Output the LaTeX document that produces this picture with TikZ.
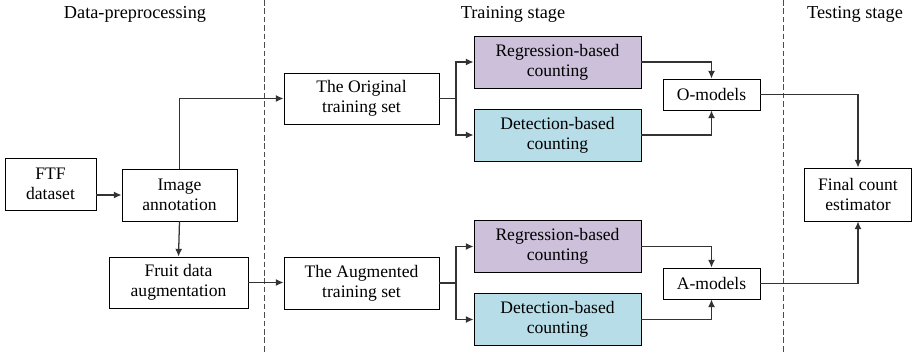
\documentclass[tikz,border=0pt]{standalone}
\usepackage{fontspec}
\setmainfont{Liberation Serif}
\usepackage{xcolor}
\definecolor{regfill}{HTML}{CCC0DA}
\definecolor{detfill}{HTML}{B7DDE8}
\definecolor{wire}{HTML}{333333}
\usepackage{tikz}
\usetikzlibrary{arrows.meta,positioning,calc}

\begin{document}
\begin{tikzpicture}[x=0.025cm, y=-0.025cm,
    box/.style={draw=black, line width=0.6pt, align=center, inner sep=1pt,
      font=\fontsize{12.5}{14.5}\selectfont, minimum height=1.3cm},
    link/.style={-{Latex[length=5.5pt,width=5pt]}, wire, line width=0.9pt},
    title/.style={font=\fontsize{13}{15}\selectfont}]
    \useasboundingbox (0,0) rectangle (912,353);
    % stage titles and separators
    \node[title] (tpre) at (135,14) {Data-preprocessing};
    \node[title] (ttrain) at (513,14) {Training stage};
    \node[title] (ttest) at (855,14) {Testing stage};
    \draw[dash pattern=on 4pt off 2pt, line width=0.5pt, black!70] (264,0) -- (264,353);
    \draw[dash pattern=on 4pt off 2pt, line width=0.5pt, black!70] (783,0) -- (783,353);
    % boxes
    \node[box, minimum width=2.275cm] (ftf) at (50.5,184) {FTF\\dataset};
    \node[box, minimum width=2.875cm] (ann) at (179.5,195) {Image\\annotation};
    \node[box, minimum width=3.475cm, minimum height=1.275cm] (fruit) at (178.5,282.5) {Fruit data\\augmentation};
    \node[box, minimum width=3.875cm, minimum height=1.275cm] (orig) at (361.5,98.5) {The Original\\training set};
    \node[box, minimum width=3.875cm] (aug) at (361.5,283) {The Augmented\\training set};
    \node[box, fill=regfill, minimum width=4.175cm] (regA) at (557.5,62) {Regression-based\\counting};
    \node[box, fill=detfill, minimum width=4.175cm] (detA) at (557.5,135) {Detection-based\\counting};
    \node[box, fill=regfill, minimum width=4.175cm] (regB) at (557.5,246.5) {Regression-based\\counting};
    \node[box, fill=detfill, minimum width=4.175cm] (detB) at (557.5,319.5) {Detection-based\\counting};
    \node[box, minimum width=2.425cm, minimum height=0.775cm] (omod) at (711.5,94.5) {O-models};
    \node[box, minimum width=2.425cm, minimum height=0.775cm] (amod) at (711.5,283.5) {A-models};
    \node[box, minimum width=2.675cm, minimum height=1.325cm] (final) at (858,194.5) {Final count\\estimator};
    % connectors
    \draw[link] (ftf.east |- ann.west) -- (ann.west);
    \draw[link] (ann.north) |- (orig.west);
    \draw[link] (ann.south) -- (fruit.north);
    \draw[link] (fruit.east) -- (fruit.east -| aug.west);
    \coordinate (splitA) at (456,98.5);
    \coordinate (splitB) at (456,283);
    \draw[wire, line width=0.9pt] (orig.east) -- (splitA);
    \draw[link] (splitA) |- (regA.west);
    \draw[link] (splitA) |- (detA.west);
    \draw[wire, line width=0.9pt] (aug.east) -- (splitB);
    \draw[link] (splitB) |- (regB.west);
    \draw[link] (splitB) |- (detB.west);
    \draw[link] (regA.east) -| (omod.north);
    \draw[link] (detA.east) -| (omod.south);
    \draw[link] (regB.east) -| (amod.north);
    \draw[link] (detB.east) -| (amod.south);
    \draw[link] (omod.east) -| (final.north);
    \draw[link] (amod.east) -| (final.south);
  \end{tikzpicture}
\end{document}
